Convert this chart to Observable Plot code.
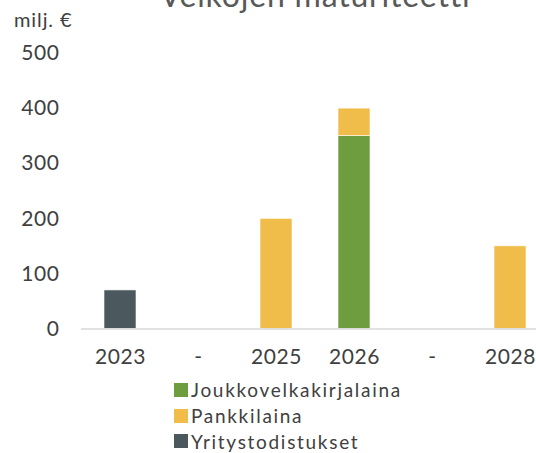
<!DOCTYPE html>
<html>
<head>
<meta charset="utf-8">
<script src="https://cdn.jsdelivr.net/npm/d3@7"></script>
<script src="https://cdn.jsdelivr.net/npm/@observablehq/plot@0.6"></script>
<style>
  html, body { margin: 0; padding: 0; background: #fff; overflow: hidden; }
  #wrap { position: relative; width: 536px; height: 453px; overflow: hidden; font-family: Lato, "Open Sans", sans-serif; color: #404040; }
  #title { position: absolute; left: 0; width: 630px; text-align: center; top: -21.5px; font-size: 32px; line-height: 1; letter-spacing: 0.8px; color: #595959; white-space: nowrap; }
  #unit { position: absolute; left: 14px; top: 8.5px; font-size: 20px; line-height: 1; letter-spacing: 0.9px; color: #404040; }
  #legend { position: absolute; left: 174px; top: 377px; font-size: 19px; letter-spacing: 1.7px; color: #404040; }
  .item { display: flex; align-items: center; height: 25.7px; }
  .sw { width: 14px; height: 14px; margin-right: 3px; }
  #chart { position: absolute; left: 0; top: 0; }
</style>
</head>
<body>
<div id="wrap">
  <div id="chart"></div>
  <div id="title">Velkojen maturiteetti</div>
  <div id="unit">milj. €</div>
  <div id="legend"></div>
</div>
<script>
const categories = ["2023", "-", "2025", "2026", "-", "2028"];
const joukkovelkakirjalaina = [0, 0, 0, 350, 0, 0];
const pankkilaina = [0, 0, 200, 50, 0, 150];
const yritystodistukset = [70, 0, 0, 0, 0, 0];
const seriesNames = ["Joukkovelkakirjalaina", "Pankkilaina", "Yritystodistukset"];
const seriesColors = ["#6E9D40", "#F0BD4A", "#4B585D"];
const yTicks = [0, 100, 200, 300, 400, 500];

const seriesValues = [joukkovelkakirjalaina, pankkilaina, yritystodistukset];
const rows = [];
seriesNames.forEach((s, si) => {
  categories.forEach((c, i) => {
    rows.push({idx: i, series: s, value: seriesValues[si][i]});
  });
});

const plot = Plot.plot({
  width: 536,
  height: 453,
  marginLeft: 81,
  marginRight: 0,
  marginTop: 53,
  marginBottom: 124.5,
  style: {fontFamily: "Lato, 'Open Sans', sans-serif", fontSize: "21px", letterSpacing: "0.6px", color: "#404040", background: "transparent"},
  x: {
    type: "band",
    domain: d3.range(categories.length),
    range: [104, 527],
    paddingInner: 0.59,
    paddingOuter: 0,
    align: 0,
    tickFormat: i => categories[i],
    tickSize: 0,
    tickPadding: 20,
    label: null
  },
  y: {
    domain: [0, 500],
    ticks: yTicks,
    tickSize: 0,
    tickPadding: 22,
    label: null
  },
  color: {domain: seriesNames, range: seriesColors},
  marks: [
    Plot.gridY(yTicks, {stroke: "#d9d9d9", strokeOpacity: 1, strokeWidth: 1.5, x1: 81, x2: 536}),
    Plot.barY(rows, Plot.stackY({
      x: "idx", y: "value", fill: "series", order: seriesNames,
      stroke: "white", strokeWidth: 0.6
    })),
    Plot.ruleY([0], {stroke: "#d9d9d9", strokeWidth: 1.5})
  ]
});
document.getElementById("chart").appendChild(plot);

const legend = document.getElementById("legend");
seriesNames.forEach((s, i) => {
  const it = document.createElement("div");
  it.className = "item";
  const sw = document.createElement("div");
  sw.className = "sw";
  sw.style.background = seriesColors[i];
  const t = document.createElement("span");
  t.textContent = s;
  it.appendChild(sw);
  it.appendChild(t);
  legend.appendChild(it);
});
</script>
</body>
</html>
